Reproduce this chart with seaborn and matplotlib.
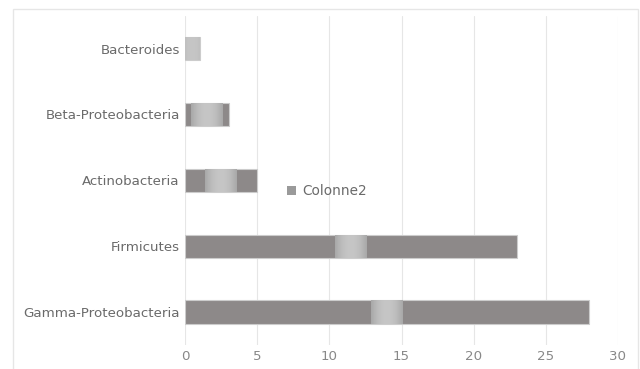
import numpy as np
import pandas as pd
import matplotlib
matplotlib.use("Agg")
import matplotlib.pyplot as plt
from matplotlib.patches import Patch, Rectangle
import seaborn as sns

# Abundance per bacterial group (top to bottom)
groups = ["Bacteroides", "Beta-Proteobacteria", "Actinobacteria",
          "Firmicutes", "Gamma-Proteobacteria"]
colonne2 = [1, 3, 5, 23, 28]
x_ticks = [0, 5, 10, 15, 20, 25, 30]
series_name = "Colonne2"

df = pd.DataFrame({"Groupe": groups, series_name: colonne2})

sns.set_theme(style="white")
plt.rcParams["font.family"] = ["DejaVu Sans"]

W, H = 640, 369
fig = plt.figure(figsize=(W / 100, H / 100), dpi=100)
ax = fig.add_axes([185.3 / W, 1 - 345 / H, (617.7 - 185.3) / W, (345 - 15.7) / H])

bar_color = "#8d8989"
sns.barplot(data=df, y="Groupe", x=series_name, orient="h", ax=ax,
            color=bar_color, saturation=1, width=0.354,
            edgecolor="#cccccc", linewidth=0.8, zorder=2)

ax.set_xlim(0, 30)
ax.set_ylim(4.5, -0.5)
ax.set_xticks(x_ticks)
ax.set_xticklabels([str(t) for t in x_ticks])
ax.set_xlabel("")
ax.set_ylabel("")
ax.grid(axis="x", color="#e6e6e6", linewidth=0.8, zorder=0)
ax.set_axisbelow(True)
for s in ax.spines.values():
    s.set_visible(False)
ax.tick_params(axis="both", length=0)
ax.tick_params(axis="y", pad=4, labelsize=9.6, labelcolor="#6a6a6a")
ax.tick_params(axis="x", pad=3.5, labelsize=9.6, labelcolor="#888888")

# Lighter sheen band across the middle of each bar
px_per_unit = ax.get_window_extent().width / 30.0
half = 16.0 / px_per_unit
profile = np.linspace(-1, 1, 60)
light = 1 - np.abs(profile) ** 2
bright = np.array([198, 198, 198]) / 255
edge = np.array([168, 168, 168]) / 255
for p in list(ax.patches):
    x0, w = p.get_x(), p.get_width()
    y0, h = p.get_y(), p.get_height()
    c = x0 + w / 2
    a, b = c - half, c + half
    cols = edge[None, :] + (bright - edge)[None, :] * light[:, None]
    img = np.repeat(cols[None, :, :], 2, axis=0)
    im = ax.imshow(img, extent=[a, b, y0 + h, y0], aspect="auto",
                   interpolation="bilinear", zorder=2.5)
    im.set_clip_path(p)
    ax.set_xlim(0, 30)
    ax.set_ylim(4.5, -0.5)

# Legend
handle = Patch(facecolor="#9a9a9a", edgecolor="none", label=series_name)
fig.legend(handles=[handle], loc="center left",
           bbox_to_anchor=(287 / W, 1 - 191 / H), frameon=False,
           fontsize=9.8, labelcolor="#6a6a6a", handlelength=0.65,
           handleheight=0.65, handletextpad=0.45, borderpad=0,
           borderaxespad=0)

# Chart area border
fig.patches.append(Rectangle((13 / W, -0.1), (638 - 13) / W, 1.1 - 9 / H,
                             transform=fig.transFigure, fill=False,
                             edgecolor="#e6e6e6", linewidth=1.0))

fig.savefig("out.png", dpi=100)
